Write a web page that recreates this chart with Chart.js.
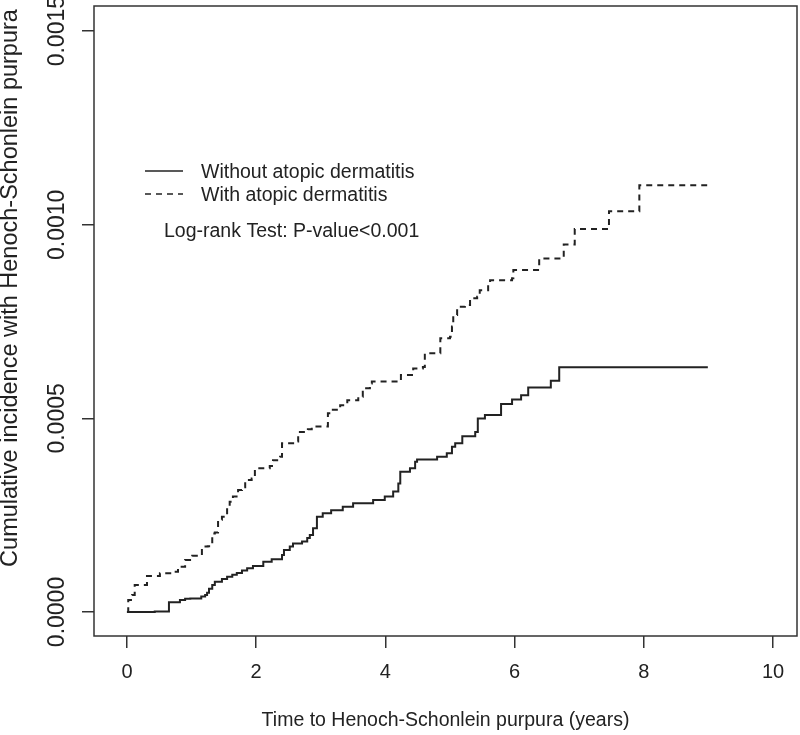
<!DOCTYPE html>
<html>
<head>
<meta charset="utf-8">
<script src="https://cdn.jsdelivr.net/npm/chart.js@4.4.1/dist/chart.umd.min.js"></script>
<style>
  html, body { margin: 0; padding: 0; background: #fff; }
  #hspChart { display: block; }
</style>
</head>
<body>
<canvas id="hspChart" width="800" height="735"></canvas>
<script>
// step times (years) and cumulative incidence after each step
const timesWithout = [0, 0.43, 0.65, 0.82, 0.90, 0.98, 1.15, 1.21, 1.24, 1.27, 1.32, 1.36, 1.47, 1.55, 1.63, 1.70, 1.78, 1.86, 1.95, 2.11, 2.24, 2.40, 2.43, 2.52, 2.57, 2.71, 2.79, 2.83, 2.88, 2.94, 3.03, 3.16, 3.34, 3.50, 3.81, 3.99, 4.12, 4.20, 4.23, 4.38, 4.46, 4.49, 4.80, 4.95, 5.03, 5.08, 5.19, 5.39, 5.43, 5.54, 5.79, 5.96, 6.10, 6.21, 6.56, 6.69, 8.99];
const incWithout = [0, 0.000001, 0.000025, 0.000031, 0.000034, 0.000035, 0.000040, 0.000044, 0.000050, 0.000060, 0.000070, 0.000078, 0.000085, 0.000091, 0.000096, 0.000101, 0.000107, 0.000113, 0.000119, 0.000130, 0.000136, 0.000147, 0.000160, 0.000169, 0.000177, 0.000182, 0.000191, 0.000199, 0.000216, 0.000246, 0.000255, 0.000263, 0.000272, 0.000281, 0.000289, 0.000298, 0.000311, 0.000332, 0.000362, 0.000371, 0.000388, 0.000394, 0.000401, 0.000410, 0.000427, 0.000436, 0.000454, 0.000465, 0.000500, 0.000509, 0.000537, 0.000549, 0.000560, 0.000580, 0.000597, 0.000632, 0.000632];

const timesWith = [0, 0.02, 0.08, 0.12, 0.31, 0.51, 0.71, 0.79, 0.90, 1.01, 1.10, 1.16, 1.25, 1.32, 1.36, 1.41, 1.47, 1.55, 1.59, 1.64, 1.72, 1.78, 1.83, 1.93, 1.98, 2.21, 2.26, 2.37, 2.40, 2.60, 2.65, 2.80, 2.86, 3.11, 3.17, 3.30, 3.41, 3.58, 3.65, 3.76, 3.79, 4.24, 4.43, 4.58, 4.61, 4.85, 5.00, 5.03, 5.05, 5.11, 5.23, 5.31, 5.42, 5.46, 5.59, 5.62, 5.96, 5.98, 6.38, 6.76, 6.93, 7.46, 7.93, 8.98];
const incWith = [0, 0.000031, 0.000044, 0.000070, 0.000093, 0.000100, 0.000104, 0.000117, 0.000134, 0.000145, 0.000147, 0.000169, 0.000170, 0.000203, 0.000205, 0.000238, 0.000246, 0.000272, 0.000285, 0.000298, 0.000315, 0.000322, 0.000341, 0.000345, 0.000371, 0.000377, 0.000392, 0.000401, 0.000436, 0.000440, 0.000465, 0.000472, 0.000479, 0.000513, 0.000522, 0.000534, 0.000547, 0.000556, 0.000578, 0.000590, 0.000595, 0.000612, 0.000629, 0.000633, 0.000668, 0.000707, 0.000711, 0.000737, 0.000767, 0.000788, 0.000793, 0.000810, 0.000814, 0.000831, 0.000844, 0.000857, 0.000862, 0.000883, 0.000913, 0.000949, 0.000989, 0.001035, 0.001102, 0.001102];

const xTicks = [0, 2, 4, 6, 8, 10];
const yTicks = [0, 0.0005, 0.0010, 0.0015];
const yTickLabels = ['0.0000', '0.0005', '0.0010', '0.0015'];
const legendLabels = ['Without atopic dermatitis', 'With atopic dermatitis'];
const testNote = 'Log-rank Test: P-value<0.001';
const xTitle = 'Time to Henoch-Schonlein purpura (years)';
const yTitle = 'Cumulative incidence with Henoch-Schonlein purpura';

const FONT = '"Liberation Sans", Arial, sans-serif';
const INK = '#222';
const dashStyle = [6, 5];

function toPoints(xs, ys) {
  return xs.map((x, i) => ({ x: x, y: ys[i] }));
}

// box, rotated y labels and the in-plot legend (R base graphics look)
const rDecor = {
  id: 'rDecor',
  afterDraw(chart) {
    const ctx = chart.ctx;
    const area = chart.chartArea;
    const ys = chart.scales.y;

    ctx.save();
    ctx.strokeStyle = '#333';
    ctx.lineWidth = 1.5;
    ctx.strokeRect(area.left, area.top, area.right - area.left, area.bottom - area.top);

    ctx.fillStyle = INK;
    ctx.textAlign = 'center';
    ctx.textBaseline = 'middle';
    ctx.font = '23px ' + FONT;
    yTicks.forEach((v, i) => {
      ctx.save();
      ctx.translate(58, ys.getPixelForValue(v));
      ctx.rotate(-Math.PI / 2);
      ctx.fillText(yTickLabels[i], 0, 0);
      ctx.restore();
    });

    ctx.font = '23.5px ' + FONT;
    ctx.save();
    ctx.translate(11, 288);
    ctx.rotate(-Math.PI / 2);
    ctx.fillText(yTitle, 0, 0);
    ctx.restore();

    // legend
    ctx.font = '19.5px ' + FONT;
    ctx.textAlign = 'left';
    ctx.strokeStyle = INK;
    ctx.lineWidth = 1.5;
    const rows = [171, 194];
    rows.forEach((y, i) => {
      ctx.setLineDash(i === 0 ? [] : dashStyle);
      ctx.beginPath();
      ctx.moveTo(145, y);
      ctx.lineTo(183, y);
      ctx.stroke();
      ctx.fillText(legendLabels[i], 201, y + 2);
    });
    ctx.setLineDash([]);
    ctx.fillText(testNote, 164, 232);
    ctx.restore();
  }
};

const ctx = document.getElementById('hspChart').getContext('2d');
const hspChart = new Chart(ctx, {
  type: 'line',
  data: {
    datasets: [{
      label: legendLabels[0],
      data: toPoints(timesWithout, incWithout),
      borderColor: INK,
      borderWidth: 2,
      stepped: true,
      pointRadius: 0,
      fill: false
    }, {
      label: legendLabels[1],
      data: toPoints(timesWith, incWith),
      borderColor: INK,
      borderWidth: 2,
      borderDash: dashStyle,
      stepped: true,
      pointRadius: 0,
      fill: false
    }]
  },
  options: {
    responsive: false,
    animation: false,
    devicePixelRatio: 1,
    layout: { padding: { top: 6, right: 3, left: 0, bottom: 0 } },
    plugins: {
      legend: { display: false },
      tooltip: { enabled: false }
    },
    scales: {
      x: {
        type: 'linear',
        min: -0.51,
        max: 10.37,
        afterBuildTicks: s => { s.ticks = xTicks.map(v => ({ value: v })); },
        afterFit: s => { s.height = 99; },
        grid: { drawOnChartArea: false, tickLength: 12, color: '#333', lineWidth: 1.5 },
        border: { display: false },
        ticks: {
          padding: 12,
          color: INK,
          autoSkip: false,
          maxRotation: 0,
          font: { family: FONT, size: 20 }
        },
        title: {
          display: true,
          text: xTitle,
          color: INK,
          font: { family: FONT, size: 19.5 },
          padding: { top: 0, bottom: 3 }
        }
      },
      y: {
        type: 'linear',
        min: -0.000062,
        max: 0.001565,
        afterBuildTicks: s => { s.ticks = yTicks.map(v => ({ value: v })); },
        afterFit: s => { s.width = 94; },
        grid: { drawOnChartArea: false, tickLength: 12, color: '#333', lineWidth: 1.5 },
        border: { display: false },
        ticks: { display: false }
      }
    }
  },
  plugins: [rDecor]
});
</script>
</body>
</html>
